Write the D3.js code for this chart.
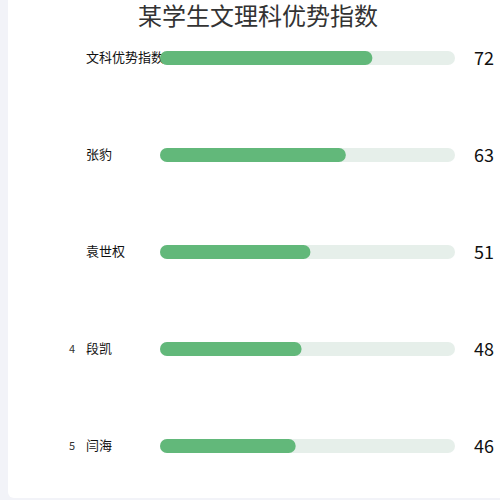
<!DOCTYPE html><html><head><meta charset="utf-8"><script src="https://cdn.jsdelivr.net/npm/d3@7"></script>
<style>body{margin:0;background:#f2f3f8}</style></head><body><svg id="c" width="500" height="500"></svg><script>
const names=["文科优势指数","张豹","袁世权","段凯","闫海"];
const values=[72,63,51,48,46];
const ranks=["","","","4","5"];
const maxV=100;
const svg=d3.select("#c");
svg.append("rect").attr("x",8).attr("y",-10).attr("width",510).attr("height",508).attr("rx",6).attr("fill","#fff");
svg.append("text").attr("x",258).attr("y",25).attr("text-anchor","middle").attr("font-family","Noto Sans CJK SC").attr("font-size",24).attr("fill","#333").text("某学生文理科优势指数");
const y=d3.scalePoint().domain(names).range([58,446]);
const x=d3.scaleLinear().domain([0,maxV]).range([160,455]);
const g=svg.selectAll("g.r").data(names).join("g");
g.append("rect").attr("x",x(0)).attr("y",d=>y(d)-7).attr("width",x(maxV)-x(0)).attr("height",14).attr("rx",7).attr("fill","#e6efea");
g.append("text").attr("x",86).attr("y",d=>y(d)+4).attr("font-family","Noto Sans CJK SC").attr("font-size",13).attr("fill","#111").text(d=>d);
g.append("rect").attr("x",x(0)).attr("y",d=>y(d)-7).attr("width",(d,i)=>x(values[i])-x(0)).attr("height",14).attr("rx",7).attr("fill","#62b87a");
g.append("text").attr("x",72).attr("y",d=>y(d)+4).attr("text-anchor","middle").attr("font-family","Noto Sans CJK SC").attr("font-size",11).attr("fill","#333").text((d,i)=>ranks[i]);
g.append("text").attr("x",474).attr("y",d=>y(d)+7).attr("font-family","Noto Sans CJK SC").attr("font-size",18).attr("fill","#111").text((d,i)=>values[i]);
</script></body></html>
